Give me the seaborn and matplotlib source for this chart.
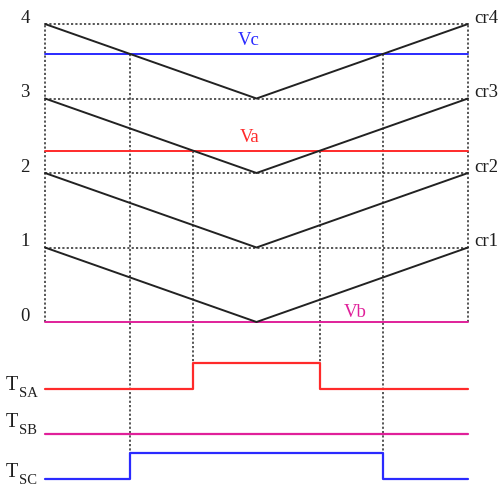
import numpy as np
import pandas as pd
import seaborn as sns
import matplotlib
matplotlib.use("Agg")
import matplotlib.pyplot as plt

# Carrier triangles: each falls from its peak to its trough at mid-period and rises back
carrier_names = ["cr1", "cr2", "cr3", "cr4"]
carrier_peaks = [1, 2, 3, 4]
carrier_troughs = [0, 1, 2, 3]

# Reference levels and the carrier each one is compared against
ref_names = ["Va", "Vb", "Vc"]
ref_values = [2.3, 0.0, 3.6]
ref_carriers = ["cr3", "cr1", "cr4"]

# Gate signals produced by each comparison
gate_names = ["SA", "SB", "SC"]
level_ticks = [0, 1, 2, 3, 4]

sns.set_style("white")
plt.rcParams["font.family"] = ["Liberation Serif", "DejaVu Serif"]

W, H = 501, 486
X0, XW = 45, 423        # pixel span of one carrier period
Y0, YU = 322, 74.5      # pixel row of level 0 and pixels per unit

fig = plt.figure(figsize=(W / 100, H / 100), dpi=100)
ax = fig.add_axes([0, 0, 1, 1])
ax.set_xlim(-X0 / XW, (W - X0) / XW)
ax.set_ylim((Y0 - H) / YU, Y0 / YU)
ax.axis("off")


def fx(px):
    return (px - X0) / XW


def fy(py):
    return (Y0 - py) / YU


ref_colors = {"Va": "#ff2a2a", "Vb": "#e0209a", "Vc": "#2a2aff"}
dot = (0, (1.3, 1.3))
grid_color = "#3a3a3a"
text_color = "#1e1e1e"

# dotted frame: horizontal level lines and side borders
for lv in level_ticks[1:]:
    ax.plot([0, 1], [lv, lv], color=grid_color, lw=1.2, ls=dot, zorder=1)
for xb in (0, 1):
    ax.plot([xb, xb], [0, 4], color=grid_color, lw=1.2, ls=dot, zorder=1)

# carriers
rows = []
for name, pk, tr in zip(carrier_names, carrier_peaks, carrier_troughs):
    for t, v in zip([0.0, 0.5, 1.0], [pk, tr, pk]):
        rows.append({"carrier": name, "t": t, "v": v})
carriers = pd.DataFrame(rows)
for name, grp in carriers.groupby("carrier"):
    sns.lineplot(data=grp, x="t", y="v", color="#222222", lw=1.4, ax=ax,
                 legend=False, zorder=3, estimator=None, sort=False)

# references
for name, val in zip(ref_names, ref_values):
    sns.lineplot(x=[0, 1], y=[val, val], color=ref_colors[name], lw=1.4, ax=ax,
                 legend=False, zorder=2)

# gate pulses from the comparison of each reference with its carrier
gate_base = {"SA": fy(389), "SB": fy(434), "SC": fy(479)}
amp = 26 / YU
carrier_lookup = dict(zip(carrier_names, zip(carrier_peaks, carrier_troughs)))
for gate, rname, val, cname in zip(gate_names, ref_names, ref_values, ref_carriers):
    pk, tr = carrier_lookup[cname]
    base = gate_base[gate]
    color = ref_colors[rname]
    if tr < val < pk:
        t1 = (pk - val) / (2 * (pk - tr))
        t2 = 1 - t1
        xs = [0, t1, t1, t2, t2, 1]
        ys = [base, base, base + amp, base + amp, base, base]
        for tc in (t1, t2):
            ax.plot([tc, tc], [val, base + amp], color=grid_color, lw=1.2,
                    ls=dot, zorder=1)
    else:
        xs = [0, 1]
        ys = [base, base]
    sns.lineplot(x=xs, y=ys, color=color, lw=1.6, ax=ax, legend=False,
                 sort=False, estimator=None, zorder=2)

# level numbers on the left
for lv in level_ticks:
    ax.text(fx(25), lv + 0.08, str(lv), ha="center", va="center", fontsize=13.5,
            color=text_color)

# carrier names on the right
for name, pk in zip(carrier_names, carrier_peaks):
    ax.text(fx(474), pk + 0.08, name, ha="left", va="center", fontsize=13.5,
            color=text_color)

# reference names
ref_label_pos = {"Vc": (249, 40), "Va": (250, 137.5), "Vb": (355, 312)}
for name in ref_names:
    x, y = ref_label_pos[name]
    ax.text(fx(x), fy(y), name, ha="center", va="center", fontsize=13.5,
            color=ref_colors[name])

# gate names: a capital T with a lowered subscript
gate_text_row = {"SA": 390, "SB": 427, "SC": 477}
for gate in gate_names:
    row = gate_text_row[gate]
    ax.text(fx(6), fy(row), "T", ha="left", va="baseline", fontsize=14.5,
            color=text_color)
    ax.text(fx(19.5), fy(row + 7), gate, ha="left", va="baseline", fontsize=10.5,
            color=text_color)

fig.savefig("out.png", dpi=100)
